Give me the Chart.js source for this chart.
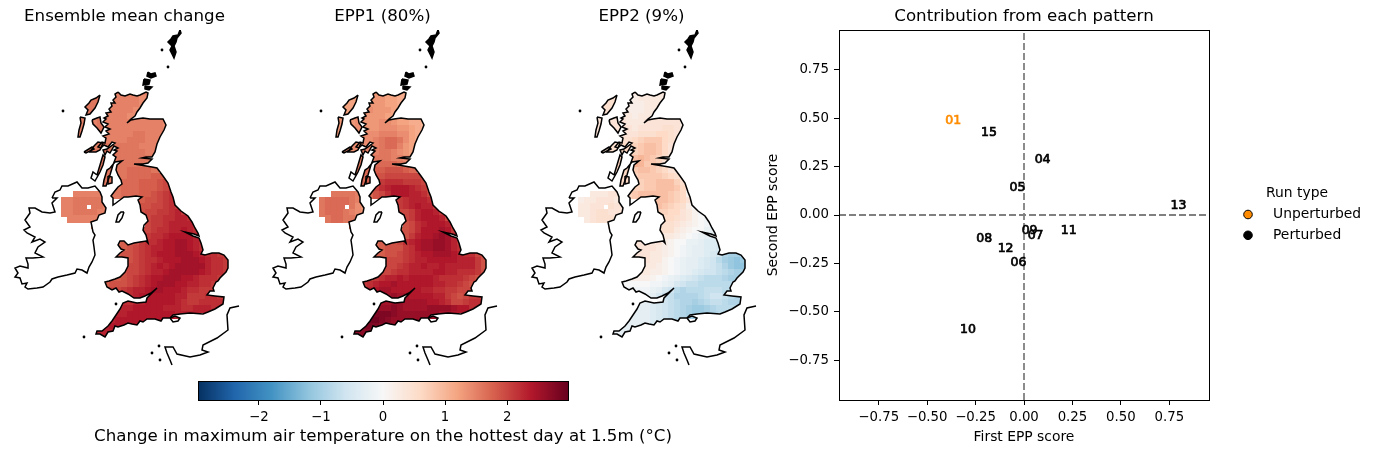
<!DOCTYPE html>
<html>
<head>
<meta charset="utf-8">
<title>EPP patterns</title>
<script src="https://cdn.jsdelivr.net/npm/chart.js@4/dist/chart.umd.min.js"></script>
<style>
  html, body { margin: 0; padding: 0; background: #fff; overflow: hidden; }
  canvas { position: absolute; }
</style>
</head>
<body>
<canvas id="mapMean" width="249" height="370" style="left:0;top:0"></canvas>
<canvas id="mapEpp1" width="249" height="370" style="left:258px;top:0"></canvas>
<canvas id="mapEpp2" width="249" height="370" style="left:517px;top:0"></canvas>
<canvas id="colorbar" width="600" height="73" style="left:83px;top:381px"></canvas>
<canvas id="scores" width="617" height="454" style="left:759px;top:0"></canvas>
<script>
// scatter panel
const perturbedLabels = ['15', '04', '05', '13', '09', '07', '11', '08', '12', '06', '10'];
const perturbedX = [-0.181, 0.096, -0.034, 0.797, 0.029, 0.06, 0.231, -0.205, -0.095, -0.029, -0.289];
const perturbedY = [0.427, 0.287, 0.143, 0.052, -0.077, -0.107, -0.079, -0.119, -0.172, -0.244, -0.589];
const unperturbedLabels = ['01'];
const unperturbedX = [-0.365];
const unperturbedY = [0.49];
const scoreTicks = [-0.75, -0.5, -0.25, 0, 0.25, 0.5, 0.75];
const scoreLimit = 0.955;
const runTypes = ['Unperturbed', 'Perturbed'];
const runColors = ['#ff8c00', '#000000'];

// colour bar
const cbLimit = 2.98;
const cbTicks = [-2, -1, 0, 1, 2];
const rdBu = ['#053061', '#2166ac', '#4393c3', '#92c5de', '#d1e5f0', '#f7f7f7', '#fddbc7', '#f4a582', '#d6604d', '#b2182b', '#67001f'];

// map coastlines, in map units
const coastGB = [[118,92],[121,95],[125,96],[130,94],[133,95],[137,96],[140,95],[146,92],[148,93],[147,98],[143,103],[140,108],[137,112],[135,116],[131,119],[127,123],[131,120],[136,119],[143,118],[150,119],[157,119],[163,119],[166,125],[164,130],[160,137],[157,144],[155,152],[152,157],[146,157],[142,158],[152,159],[148,163],[143,164],[134,164],[146,166],[152,167],[157,168],[163,176],[168,183],[171,192],[173,197],[175,205],[181,211],[188,216],[192,222],[195,228],[198,233],[199,236],[194,234],[185,232],[193,236],[199,238],[201,243],[203,250],[201,254],[205,255],[212,253],[219,253],[224,255],[228,260],[228,268],[226,272],[220,278],[218,281],[216,282],[213,288],[214,291],[210,291],[207,295],[215,296],[224,297],[223,304],[215,309],[208,312],[203,314],[190,313],[180,314],[173,315],[170,318],[163,318],[161,321],[155,319],[147,319],[143,322],[140,321],[137,325],[132,324],[128,323],[124,325],[118,327],[115,326],[113,331],[108,332],[105,337],[100,334],[96,334],[97,331],[102,331],[108,326],[112,321],[116,315],[120,309],[123,303],[128,301],[137,303],[146,302],[147,298],[152,293],[157,288],[151,293],[145,296],[140,298],[134,298],[128,294],[122,291],[119,292],[116,288],[112,290],[107,287],[105,282],[109,281],[115,279],[120,277],[125,272],[128,266],[128,258],[122,257],[116,257],[120,253],[124,250],[121,249],[118,245],[120,241],[124,241],[128,245],[134,243],[140,242],[146,241],[148,243],[146,235],[143,230],[144,225],[148,221],[146,215],[141,212],[140,205],[138,200],[142,197],[136,196],[128,197],[124,197],[120,200],[116,203],[113,205],[113,198],[111,196],[114,192],[118,187],[122,184],[121,180],[118,175],[116,170],[117,165],[122,161],[115,162],[110,168],[107,170],[104,180],[103,186],[106,186],[110,175],[113,165],[116,157],[113,155],[117,151],[114,150],[118,148],[114,146],[110,153],[107,151],[105,155],[103,150],[107,149],[110,147],[115,143],[112,142],[108,147],[104,145],[101,148],[98,147],[102,142],[105,143],[106,138],[103,136],[109,134],[106,131],[110,129],[105,127],[108,124],[103,122],[106,119],[104,118],[108,116],[106,113],[111,112],[109,109],[112,106],[111,103],[115,103],[113,100],[116,97],[115,94],[118,92]];
const coastIreland = [[52,198],[55,192],[60,190],[62,186],[68,186],[77,182],[82,188],[88,188],[95,186],[100,192],[102,197],[102,202],[106,208],[105,213],[99,215],[97,220],[91,222],[93,232],[95,235],[93,240],[94,247],[95,255],[92,262],[89,267],[87,273],[82,270],[77,269],[75,273],[67,275],[58,277],[52,279],[50,282],[43,287],[37,288],[28,289],[25,287],[27,283],[22,284],[20,278],[15,277],[18,273],[15,268],[20,266],[28,268],[28,264],[26,258],[33,258],[43,257],[35,253],[38,247],[45,242],[40,239],[32,242],[35,237],[27,233],[24,230],[30,227],[25,220],[30,213],[29,208],[35,208],[42,212],[50,213],[55,212],[52,203],[57,198],[52,198]];
const coastMan = [[124,212],[122,218],[119,222],[116,222],[118,215],[121,212],[124,212]];
const coastWight = [[170,318],[175,316],[180,318],[178,321],[173,322],[170,318]];
const coastLewis = [[100,95],[96,98],[91,100],[89,103],[85,107],[88,110],[86,115],[90,114],[95,108],[98,102],[100,95]];
const coastUist = [[80,117],[85,118],[84,124],[82,131],[80,137],[78,137],[79,130],[81,123],[80,117]];
const coastSkye = [[92,120],[97,118],[100,117],[101,123],[104,127],[101,133],[97,128],[93,124],[92,120]];
const coastMull = [[94,146],[98,142],[103,143],[100,150],[96,152],[90,152],[94,146]];
const coastColl = [[84,152],[92,147],[94,149],[86,153],[84,152]];
const coastIslay = [[97,175],[93,172],[91,178],[95,181],[100,172],[103,165],[105,157],[103,155],[100,165],[97,175]];
const coastArran = [[108,176],[112,177],[112,183],[108,184],[108,176]];
const coastFrance = [[239,306],[230,308],[227,315],[228,330],[217,338],[203,345],[202,350],[208,352],[200,355],[190,357],[177,354],[173,347],[165,347],[167,353],[170,360],[172,365]];
const coastOrkneyNorth = [[148,72],[151,74],[155,73],[156,76],[151,78],[147,76],[148,72]];
const coastOrkneyMain = [[144,79],[150,80],[149,84],[143,85],[144,79]];
const coastOrkneySouth = [[145,86],[152,87],[149,90],[145,89],[145,86]];
const coastShetland = [[180,30],[178,35],[173,36],[171,39],[168,42],[172,46],[170,50],[172,54],[174,58],[176,52],[174,46],[176,42],[177,38],[181,33],[180,30]];
const smallIslands = [[162,50],[168,67],[63,111],[84,337],[116,304],[152,353],[160,360],[159,346]];

// grid rows: first column of each row, then values in tenths of a degree
const gbStart = [7,4,4,4,3,3,3,3,3,3,4,4,5,6,6,6,8,8,12,12,13,13,14,13,13,9,9,9,11,11,10,7,7,8,11,10,9,8,7,6,5,6];
const niRowIndex = [17,18,19,20,21,22];
const niStart = [2,0,0,0,1,5];

const meanGB = [
  [15,15,15,15,15,15,15,15],
  [16,16,16,15,15,15,15,15,15,14,14],
  [16,16,16,15,15,15,15,15,15,14],
  [16,16,16,15,15,15,15,15,14,14],
  [15,15,16,15,15,15,15,15,14,14],
  [15,15,15,16,15,15,15,15,15,15,15,15,15,15,14],
  [15,15,15,16,15,15,15,15,15,15,15,15,15,15,14],
  [15,15,15,16,15,15,15,15,15,16,16,15,15,15],
  [15,15,15,16,15,15,15,15,16,16,16,15,15,15],
  [15,15,15,16,16,15,16,16,16,16,15,15,15],
  [15,16,16,16,16,16,16,16,16,16,15,15],
  [15,16,16,16,16,16,16,16,16,16,16,15],
  [16,16,16,16,16,16,16,16,16,15],
  [16,16,16,16,16,17,17,17,17,16],
  [16,16,16,16,16,17,17,17,17,18,18,18],
  [16,16,16,16,17,17,17,18,18,18,19,20,20],
  [16,16,17,17,17,18,18,18,19,20,21],
  [16,16,17,17,17,18,18,19,20,21,22],
  [18,18,19,19,20,21,22,20],
  [18,19,19,20,20,21,22,21],
  [19,20,20,21,21,22,23,21],
  [19,20,21,21,22,22,23,23,22],
  [20,21,21,22,23,23,23,23,22],
  [20,20,21,22,22,23,23,24,23,22],
  [20,21,22,22,23,24,24,24,24,23,22],
  [17,18,19,19,21,22,22,23,24,24,25,25,24,23,22],
  [18,18,19,20,21,22,23,23,24,24,25,25,24,23,22],
  [18,19,19,20,21,22,23,24,24,24,25,25,25,24,23,22,22,21],
  [19,20,21,22,22,23,24,24,24,25,25,25,24,23,22,22,21],
  [20,20,21,22,23,24,23,24,25,25,25,25,25,23,22,22,21],
  [19,20,20,21,22,23,23,24,25,25,25,25,25,24,23,22,22,21],
  [18,18,18,19,20,21,22,23,24,24,25,25,25,24,24,23,22,22,22,21],
  [18,19,19,19,20,21,22,23,24,25,25,25,24,24,23,23,22,22,21],
  [20,20,21,22,23,23,24,25,25,24,24,24,23,22,22,21,21],
  [22,23,24,24,24,24,24,24,23,23,21,21,21,22,22,21],
  [22,22,23,23,24,24,24,24,24,23,22,21,21,22,22,22,22,21],
  [22,23,23,24,24,24,24,24,23,23,23,22,22,23,23,23,22],
  [23,23,23,24,24,24,24,24,24,24,24,23,23,23,23],
  [23,23,24,24,24,24,24,24,24,24,24],
  [23,23,24,24,24,24,24],
  [22,23,23,23,23],
  [22,23]
];
const meanNI = [
  [15,15,15,15,15,15],
  [15,15,16,16,16,16,16,15],
  [15,15,16,16,null,16,16,15],
  [15,15,16,16,16,16,15,15],
  [15,15,15,15,15,15,15],
  [15,15,15]
];

const epp1GB = [
  [11,12,13,13,13,12,11,11],
  [12,12,12,12,13,13,13,12,12,11,11],
  [12,12,12,13,13,13,13,12,12,11],
  [12,12,12,13,14,13,13,13,12,12],
  [13,13,13,13,14,13,13,13,12,12],
  [13,13,13,14,13,13,13,14,14,13,12,12,11,11,10],
  [13,13,13,14,13,13,13,14,14,14,13,13,12,11,10],
  [13,13,13,14,14,14,14,15,15,15,14,14,12,11],
  [13,13,14,14,14,14,15,16,17,17,16,14,12,11],
  [14,14,14,14,14,15,15,16,17,17,15,13,12],
  [14,14,14,15,15,15,16,16,15,14,13,12],
  [15,15,15,15,16,16,16,16,15,15,14,13],
  [15,16,16,17,17,17,17,17,16,15],
  [16,17,17,18,18,19,19,19,18,17],
  [16,17,18,19,19,20,20,20,20,20,20,19],
  [17,17,18,20,21,22,22,22,21,21,21,20,19],
  [18,20,22,23,24,24,24,23,22,21,19],
  [17,19,20,22,24,24,24,23,23,22,20],
  [20,21,22,23,23,23,22,20],
  [20,21,22,23,24,23,23,21],
  [20,20,21,23,24,24,23,21],
  [20,20,21,23,24,24,24,23,20],
  [19,20,22,23,24,24,24,23,20],
  [18,19,20,22,24,24,24,25,24,21],
  [18,19,21,23,24,24,25,26,25,23,20],
  [17,18,19,19,20,22,23,24,25,25,26,26,25,23,21],
  [17,18,19,19,19,21,22,24,25,25,26,26,25,23,22],
  [18,18,19,19,20,21,22,23,24,24,25,25,25,24,23,22,22,20],
  [20,20,20,21,22,23,23,24,24,24,24,24,23,23,23,21,19],
  [20,20,21,22,23,23,24,23,23,24,23,23,23,23,23,21,19],
  [20,20,21,22,22,23,23,23,23,24,24,23,23,22,22,22,21,19],
  [19,20,21,22,23,23,24,23,24,24,24,24,23,22,22,22,22,21,20,19],
  [21,22,23,24,24,25,24,24,24,24,24,24,23,23,22,22,21,20,19],
  [23,24,25,25,24,24,24,24,24,23,23,22,22,21,21,20,20],
  [25,26,25,25,24,24,24,24,23,23,21,20,19,20,21,21],
  [25,25,26,26,25,25,25,25,24,24,23,22,20,20,21,22,22,20],
  [26,26,26,27,26,25,25,25,25,26,26,26,26,25,24,24,22],
  [27,28,28,28,27,26,26,26,26,26,26,26,25,25,24],
  [28,29,29,28,27,26,26,26,26,26,25],
  [28,28,28,28,27,26,26],
  [27,27,27,27,26],
  [26,26]
];
const epp1NI = [
  [16,16,16,16,15,15],
  [16,17,17,17,17,16,15,14],
  [16,17,17,17,null,16,14,13],
  [16,17,17,17,16,15,14,13],
  [16,17,17,16,16,15,14],
  [16,15,14]
];

const epp2GB = [
  [3,3,3,2,3,3,3,3],
  [5,5,5,2,2,2,3,3,3,3,3],
  [5,5,5,2,2,2,2,3,3,3],
  [5,5,5,3,2,2,2,3,3,3],
  [4,4,4,3,3,3,2,3,3,3],
  [4,4,4,4,4,3,3,3,4,4,4,4,4,4,3],
  [4,4,4,4,4,4,3,4,4,4,4,5,5,4,3],
  [4,4,4,4,4,4,4,5,5,5,6,6,5,4],
  [4,4,4,5,5,5,6,7,8,8,8,6,5,4],
  [5,5,5,5,6,6,7,8,9,9,8,6,4],
  [5,5,6,6,7,7,8,9,9,8,6,4],
  [5,6,6,7,8,9,10,9,8,7,5,4],
  [6,7,8,10,11,10,8,8,7,4],
  [6,6,7,8,9,9,8,7,6,4],
  [6,6,6,7,8,8,8,8,7,6,5,3],
  [6,6,6,7,7,8,8,9,9,9,7,5,2],
  [7,7,7,8,8,9,9,9,8,6,1],
  [7,8,9,9,9,9,9,8,7,6,1],
  [9,9,9,8,7,6,4,0],
  [9,9,8,7,6,5,2,0],
  [7,7,6,6,4,3,1,-1],
  [6,6,6,5,4,3,1,0,-1],
  [5,5,4,3,2,1,0,-1,-2],
  [5,5,5,3,2,1,0,0,-2,-3],
  [4,3,3,2,1,0,-1,-2,-3,-4,-4],
  [4,4,4,3,4,2,1,0,0,-2,-2,-3,-4,-4,-4],
  [4,4,4,4,3,2,1,0,-1,-2,-3,-3,-4,-4,-5],
  [4,4,4,3,3,2,1,0,-1,-2,-3,-3,-4,-5,-6,-9,-10,-10],
  [4,3,3,1,0,-1,-2,-3,-3,-4,-5,-6,-8,-10,-11,-12,-11],
  [3,3,2,1,0,-1,-2,-3,-3,-4,-5,-6,-7,-9,-11,-12,-12],
  [3,3,2,2,1,0,-1,-2,-3,-4,-5,-6,-6,-7,-8,-9,-10,-10],
  [1,1,2,2,2,1,0,-1,-2,-3,-4,-5,-6,-7,-8,-8,-8,-9,-10,-10],
  [0,0,0,0,0,-1,-1,-2,-3,-5,-6,-7,-7,-8,-8,-8,-8,-8,-8],
  [-1,-1,-1,-1,-2,-3,-5,-6,-8,-9,-8,-8,-8,-7,-7,-7,-8],
  [-2,-3,-5,-7,-7,-9,-9,-9,-9,-8,-7,-6,-6,-7,-8,-9],
  [-2,-3,-4,-5,-6,-7,-8,-9,-9,-10,-9,-8,-7,-7,-8,-9,-9,-9],
  [-3,-3,-3,-4,-5,-6,-7,-8,-9,-10,-11,-11,-10,-9,-8,-8,-8],
  [-3,-3,-3,-3,-4,-5,-6,-7,-8,-9,-10,-11,-11,-10,-9],
  [-3,-3,-3,-3,-3,-4,-5,-6,-7,-8,-8],
  [-2,-3,-3,-3,-3,-4,-5],
  [-2,-2,-3,-3,-3],
  [-2,-2]
];
const epp2NI = [
  [3,3,3,4,4,3],
  [2,3,3,4,4,4,3,3],
  [3,3,4,4,null,5,4,4],
  [3,3,4,5,5,4,4,4],
  [3,4,5,5,5,4,4],
  [5,4,4]
];

Chart.defaults.font.family = '"DejaVu Sans"';
Chart.defaults.color = '#000';
Chart.defaults.animation = false;

const landShapes = [coastGB, coastIreland, coastMan, coastWight, coastLewis, coastUist, coastSkye, coastMull, coastColl, coastIslay, coastArran, coastOrkneyNorth, coastOrkneyMain, coastOrkneySouth, coastShetland];
const filledShapes = [coastOrkneyNorth, coastOrkneyMain, coastOrkneySouth, coastShetland];

function hexToRgb(hex) {
  return [1, 3, 5].map(i => parseInt(hex.slice(i, i + 2), 16));
}

function colorFor(value) {
  const t = Math.max(0, Math.min(1, (value + cbLimit) / (2 * cbLimit))) * (rdBu.length - 1);
  const i = Math.min(Math.floor(t), rdBu.length - 2);
  const a = hexToRgb(rdBu[i]);
  const b = hexToRgb(rdBu[i + 1]);
  const mix = a.map((c, k) => Math.round(c + (b[k] - c) * (t - i)));
  return `rgb(${mix[0]},${mix[1]},${mix[2]})`;
}

function buildCells(gbRows, niRows) {
  const cells = [];
  const addRow = (row, r, start) => row.forEach((v, i) => {
    if (v !== null) cells.push({ x: 65 + (start + i) * 6, y: 93 + r * 6, v: v / 10 });
  });
  gbRows.forEach((row, r) => addRow(row, r, gbStart[r]));
  niRows.forEach((row, k) => addRow(row, niRowIndex[k], niStart[k]));
  return cells;
}

const toPoints = shape => shape.map(p => ({ x: p[0], y: p[1] }));

// cells are only painted inside the land outlines
const landClip = {
  id: 'landClip',
  beforeDatasetDraw(chart, args) {
    if (chart.data.datasets[args.index].label !== 'cells') return;
    const { ctx, scales: { x, y } } = chart;
    ctx.save();
    ctx.beginPath();
    landShapes.forEach(shape => {
      shape.forEach((p, i) => {
        const px = x.getPixelForValue(p[0]);
        const py = y.getPixelForValue(p[1]);
        if (i === 0) ctx.moveTo(px, py); else ctx.lineTo(px, py);
      });
      ctx.closePath();
    });
    ctx.clip();
  },
  afterDatasetDraw(chart, args) {
    if (chart.data.datasets[args.index].label === 'cells') chart.ctx.restore();
  }
};

function makeMap(id, title, gbRows, niRows) {
  const coastSets = landShapes.concat([coastFrance]).map(shape => ({
    type: 'scatter',
    data: toPoints(shape),
    showLine: true,
    borderColor: '#000',
    borderWidth: 1.5,
    pointRadius: 0,
    fill: filledShapes.includes(shape) ? 'shape' : false,
    backgroundColor: '#000'
  }));
  new Chart(document.getElementById(id), {
    type: 'scatter',
    data: {
      datasets: coastSets.concat([
        {
          data: toPoints(smallIslands),
          pointRadius: 1.4,
          backgroundColor: '#000',
          borderWidth: 0
        },
        {
          label: 'cells',
          data: buildCells(gbRows, niRows),
          pointStyle: 'rect',
          pointRadius: 5.657,
          pointBorderWidth: 0,
          pointBackgroundColor: ctx => colorFor(ctx.raw.v)
        }
      ])
    },
    options: {
      responsive: false,
      events: [],
      layout: { padding: 0, autoPadding: false },
      plugins: {
        legend: { display: false },
        tooltip: { enabled: false },
        title: { display: true, text: title, font: { size: 16.67, weight: 'normal' }, padding: { top: 7, bottom: 3 }, color: '#000' }
      },
      scales: {
        x: { display: false, min: 0, max: 249 },
        y: { display: false, min: 30, max: 370, reverse: true }
      }
    },
    plugins: [landClip]
  });
}

makeMap('mapMean', 'Ensemble mean change', meanGB, meanNI);
makeMap('mapEpp1', 'EPP1 (80%)', epp1GB, epp1NI);
makeMap('mapEpp2', 'EPP2 (9%)', epp2GB, epp2NI);

const frame = {
  id: 'frame',
  afterDraw(chart) {
    const { ctx, chartArea: a } = chart;
    ctx.save();
    ctx.strokeStyle = '#000';
    ctx.lineWidth = 1;
    ctx.strokeRect(a.left + 0.5, a.top + 0.5, a.right - a.left, a.bottom - a.top);
    ctx.restore();
  }
};

const minusSign = text => String(text).replace('-', '\u2212');

// the long label is wider than the bar, so it is written across the whole canvas
const colorbarLabel = {
  id: 'colorbarLabel',
  afterDraw(chart) {
    const { ctx, width } = chart;
    ctx.save();
    ctx.font = '16.67px "DejaVu Sans"';
    ctx.textAlign = 'center';
    ctx.textBaseline = 'middle';
    ctx.fillStyle = '#000';
    ctx.fillText('Change in maximum air temperature on the hottest day at 1.5m (\u00b0C)', width / 2, 56);
    ctx.restore();
  }
};

new Chart(document.getElementById('colorbar'), {
  type: 'bar',
  data: {
    labels: [''],
    datasets: [{
      data: [[-cbLimit, cbLimit]],
      barPercentage: 1,
      categoryPercentage: 1,
      backgroundColor: ctx => {
        const a = ctx.chart.chartArea;
        if (!a) return '#fff';
        const g = ctx.chart.ctx.createLinearGradient(a.left, 0, a.right, 0);
        rdBu.forEach((c, i) => g.addColorStop(i / (rdBu.length - 1), c));
        return g;
      }
    }]
  },
  options: {
    indexAxis: 'y',
    responsive: false,
    events: [],
    layout: { padding: { left: 115, right: 115 } },
    plugins: { legend: { display: false }, tooltip: { enabled: false } },
    scales: {
      y: { display: false },
      x: {
        min: -cbLimit,
        max: cbLimit,
        afterBuildTicks(scale) { scale.ticks = cbTicks.map(v => ({ value: v })); },
        afterFit(scale) { scale.height = 54; },
        border: { display: false },
        grid: { drawOnChartArea: false, tickLength: 5, tickColor: '#000', tickWidth: 1 },
        ticks: { font: { size: 13.3 }, padding: 5, maxRotation: 0, callback: v => minusSign(v) }
      }
    }
  },
  plugins: [frame, colorbarLabel]
});

const toScorePoints = (xs, ys, labels) => xs.map((x, i) => ({ x, y: ys[i], label: labels[i] }));

// run numbers are written at each score point
const runLabels = {
  id: 'runLabels',
  afterDatasetsDraw(chart) {
    const { ctx } = chart;
    ctx.save();
    ctx.font = '12.5px "DejaVu Sans"';
    ctx.textAlign = 'center';
    ctx.textBaseline = 'middle';
    ctx.lineWidth = 0.7;
    chart.data.datasets.forEach(ds => {
      if (!ds.runColor) return;
      ctx.fillStyle = ds.runColor;
      ctx.strokeStyle = ds.runColor;
      ds.data.forEach(p => {
        const px = chart.scales.x.getPixelForValue(p.x);
        const py = chart.scales.y.getPixelForValue(p.y) + 0.5;
        ctx.fillText(p.label, px, py);
        ctx.strokeText(p.label, px, py);
      });
    });
    ctx.restore();
  }
};

const runLegend = {
  id: 'runLegend',
  afterDraw(chart) {
    const { ctx, chartArea: a } = chart;
    ctx.save();
    ctx.font = '13.89px "DejaVu Sans"';
    ctx.textBaseline = 'middle';
    ctx.fillStyle = '#000';
    ctx.fillText('Run type', a.right + 57, 193.5);
    runTypes.forEach((name, i) => {
      const y = 214.5 + i * 20.8;
      ctx.beginPath();
      ctx.arc(a.right + 39, y, 4.3, 0, Math.PI * 2);
      ctx.fillStyle = runColors[i];
      ctx.fill();
      ctx.strokeStyle = '#000';
      ctx.lineWidth = 1;
      ctx.stroke();
      ctx.fillStyle = '#000';
      ctx.fillText(name, a.right + 64, y);
    });
    ctx.restore();
  }
};

const zeroLine = points => ({
  type: 'scatter',
  data: points,
  showLine: true,
  borderColor: '#808080',
  borderWidth: 1.8,
  borderDash: [7, 3],
  pointRadius: 0
});

new Chart(document.getElementById('scores'), {
  type: 'scatter',
  data: {
    datasets: [
      { label: runTypes[0], runColor: runColors[0], data: toScorePoints(unperturbedX, unperturbedY, unperturbedLabels), pointRadius: 0 },
      { label: runTypes[1], runColor: runColors[1], data: toScorePoints(perturbedX, perturbedY, perturbedLabels), pointRadius: 0 },
      zeroLine([{ x: -scoreLimit, y: 0 }, { x: scoreLimit, y: 0 }]),
      zeroLine([{ x: 0, y: -scoreLimit }, { x: 0, y: scoreLimit }])
    ]
  },
  options: {
    responsive: false,
    events: [],
    layout: { padding: { right: 167 } },
    plugins: {
      legend: { display: false },
      tooltip: { enabled: false },
      title: {
        display: true,
        fullSize: false,
        text: 'Contribution from each pattern',
        font: { size: 16.67, weight: 'normal' },
        padding: { top: 7, bottom: 3 },
        color: '#000'
      }
    },
    scales: {
      x: {
        min: -scoreLimit,
        max: scoreLimit,
        afterBuildTicks(scale) { scale.ticks = scoreTicks.map(v => ({ value: v })); },
        afterFit(scale) { scale.height = 54; },
        border: { display: false },
        grid: { drawOnChartArea: false, tickLength: 5, tickColor: '#000' },
        ticks: { font: { size: 13.3 }, padding: 5, maxRotation: 0, callback: v => minusSign(v.toFixed(2)) },
        title: { display: true, text: 'First EPP score', font: { size: 13.89 }, padding: { top: 0, bottom: 8 } }
      },
      y: {
        min: -scoreLimit,
        max: scoreLimit,
        afterBuildTicks(scale) { scale.ticks = scoreTicks.map(v => ({ value: v })); },
        afterFit(scale) { scale.width = 80; },
        border: { display: false },
        grid: { drawOnChartArea: false, tickLength: 5, tickColor: '#000' },
        ticks: { font: { size: 13.3 }, padding: 5, callback: v => minusSign(v.toFixed(2)) },
        title: { display: true, text: 'Second EPP score', font: { size: 13.89 }, padding: { top: 6, bottom: 6 } }
      }
    }
  },
  plugins: [frame, runLabels, runLegend]
});
</script>
</body>
</html>
